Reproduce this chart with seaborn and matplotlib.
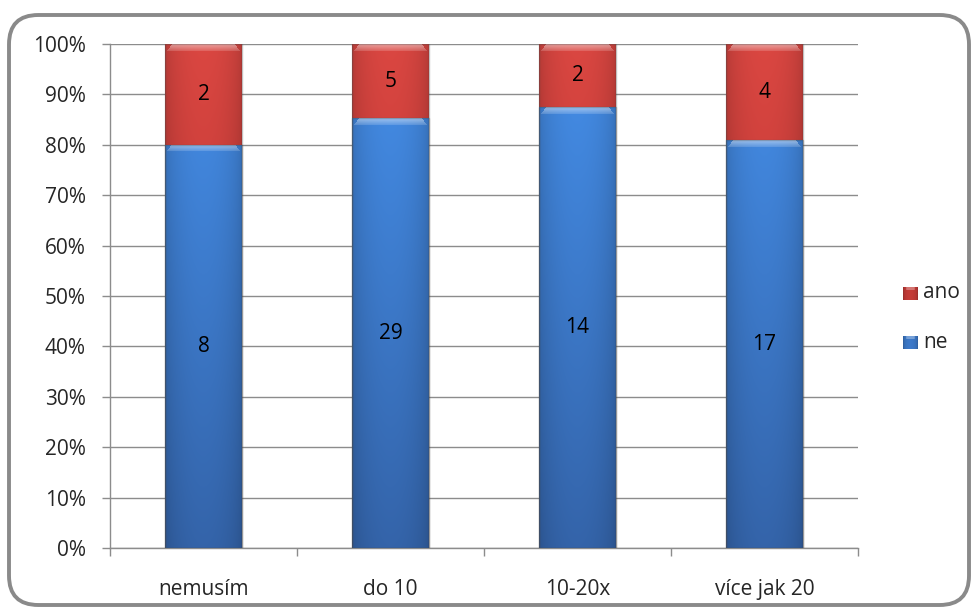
import numpy as np
import pandas as pd
import matplotlib
matplotlib.use("Agg")
import matplotlib.pyplot as plt
from matplotlib.patches import FancyBboxPatch
from matplotlib.ticker import PercentFormatter, FixedLocator
import seaborn as sns

categories = ["nemusím", "do 10", "10-20x", "více jak 20"]
ne_counts = [8, 29, 14, 17]
ano_counts = [2, 5, 2, 4]

sns.set_theme(style="white")
plt.rcParams["font.family"] = ["Open Sans", "DejaVu Sans"]

totals = np.array(ne_counts) + np.array(ano_counts)
ne_pct = np.array(ne_counts) / totals * 100
ano_pct = np.array(ano_counts) / totals * 100

df = pd.DataFrame({
    "kategorie": categories,
    "ne": ne_pct,
    "celkem": ne_pct + ano_pct,
})

fig = plt.figure(figsize=(9.76, 6.10), dpi=100)
ax = fig.add_axes([110 / 976, 1 - 548 / 610, 748 / 976, 504 / 610])

RED = "#c93d3a"
BLUE = "#3d7ccf"
# colour at the bottom (y=0) and top (y=100) of the plot for each series
RED_RANGE = ("#a82e2b", "#d2443f")
BLUE_RANGE = ("#3260a3", "#4289e0")

sns.barplot(data=df, x="kategorie", y="celkem", color=RED, width=0.41,
            saturation=1, ax=ax, zorder=3)
sns.barplot(data=df, x="kategorie", y="ne", color=BLUE, width=0.41,
            saturation=1, ax=ax, zorder=3)

PX_PER_UNIT = 504 / 100.0
FS = 15


def gradient_bar(patch, crange):
    x0, y0 = patch.get_x(), patch.get_y()
    w, h = patch.get_width(), patch.get_height()
    lo = np.array(matplotlib.colors.to_rgb(crange[0]))
    hi = np.array(matplotlib.colors.to_rgb(crange[1]))
    nx = 77
    ny = max(int(h * PX_PER_UNIT), 4)
    u = np.linspace(0, 1, nx)
    yy = np.linspace(y0, y0 + h, ny) / 100.0
    base = lo[None, :] + (hi - lo)[None, :] * yy[:, None]       # (ny, 3)
    # darker toward the left and right edges
    hx = 0.84 + 0.2 * np.sin(np.pi * u) ** 0.5
    img = np.clip(base[:, None, :] * hx[None, :, None], 0, 1)
    # lighter bevel along the top with slanted corners
    bev = 7
    for k in range(bev):
        row = ny - 1 - k
        if row < 0:
            break
        inset = int(round((bev - k) * 0.9))
        strength = 0.35 * (1 - k / bev) + 0.12
        sl = slice(inset + 1, nx - inset - 1)
        img[row, sl, :] = img[row, sl, :] + (1 - img[row, sl, :]) * strength
    im = ax.imshow(img, extent=(x0, x0 + w, y0, y0 + h), origin="lower",
                   aspect="auto", zorder=4, interpolation="bilinear")
    im.set_clip_path(patch)
    patch.set_edgecolor((0.3, 0.3, 0.3, 0.35))
    patch.set_linewidth(1.0)
    patch.set_zorder(5)
    patch.set_facecolor("none")


n = len(categories)
patches = list(ax.patches)
for i, p in enumerate(patches):
    gradient_bar(p, RED_RANGE if i < n else BLUE_RANGE)

# value labels in the middle of each segment
for i in range(n):
    ax.text(i, ne_pct[i] / 2, str(ne_counts[i]), ha="center", va="center",
            fontsize=FS, color="black", zorder=6)
    ax.text(i, ne_pct[i] + ano_pct[i] / 2, str(ano_counts[i]), ha="center",
            va="center", fontsize=FS, color="black", zorder=6)

ax.set_xlim(-0.5, n - 0.5)
ax.set_ylim(0, 100)
ax.set_xlabel("")
ax.set_ylabel("")
ax.yaxis.set_major_locator(FixedLocator(np.arange(0, 101, 10)))
ax.yaxis.set_major_formatter(PercentFormatter(decimals=0))
ax.grid(axis="y", color="#8c8c8c", linewidth=1.0, zorder=0)
ax.set_axisbelow(True)

for s in ["top", "right"]:
    ax.spines[s].set_visible(False)
for s in ["left", "bottom"]:
    ax.spines[s].set_color("#8c8c8c")
    ax.spines[s].set_linewidth(1.0)

ax.tick_params(axis="y", which="both", direction="out", length=5.5, width=1,
               color="#8c8c8c", labelsize=FS, pad=12, left=True)
ax.set_xticks(range(n))
ax.set_xticklabels(categories, fontsize=FS)
ax.tick_params(axis="x", which="major", length=0, pad=22, labelsize=FS)
ax.set_xticks(np.arange(-0.5, n, 1), minor=True)
ax.tick_params(axis="x", which="minor", direction="out", length=6, width=1,
               color="#8c8c8c", bottom=True)

# legend with small gradient swatches
leg_items = [("ano", RED_RANGE, 293), ("ne", BLUE_RANGE, 342)]
for label, crange, ypix in leg_items:
    sx = fig.add_axes([903 / 976, 1 - (ypix + 7) / 610, 14 / 976, 13 / 610])
    lo = np.array(matplotlib.colors.to_rgb(crange[0]))
    hi = np.array(matplotlib.colors.to_rgb(crange[1]))
    mid = (lo + hi) / 2
    u = np.linspace(0, 1, 14)
    hx = 0.84 + 0.2 * np.sin(np.pi * u) ** 0.5
    img = np.clip(mid[None, None, :] * hx[None, :, None] * np.ones((13, 1, 1)), 0, 1)
    img[:3, 3:11, :] = img[:3, 3:11, :] + (1 - img[:3, 3:11, :]) * 0.3
    sx.imshow(img, aspect="auto", interpolation="bilinear")
    sx.set_axis_off()
    fig.text(923 / 976, 1 - ypix / 610, label, fontsize=FS, va="center",
             ha="left")

# rounded outer frame
frame = FancyBboxPatch((9 / 976, 5 / 610), 960 / 976, 590 / 610,
                       boxstyle="round,pad=0,rounding_size=0.03",
                       transform=fig.transFigure, fill=False,
                       edgecolor="#8a8a8a", linewidth=2.8,
                       mutation_aspect=976 / 610)
fig.patches.append(frame)

fig.savefig("out.png", dpi=100)
